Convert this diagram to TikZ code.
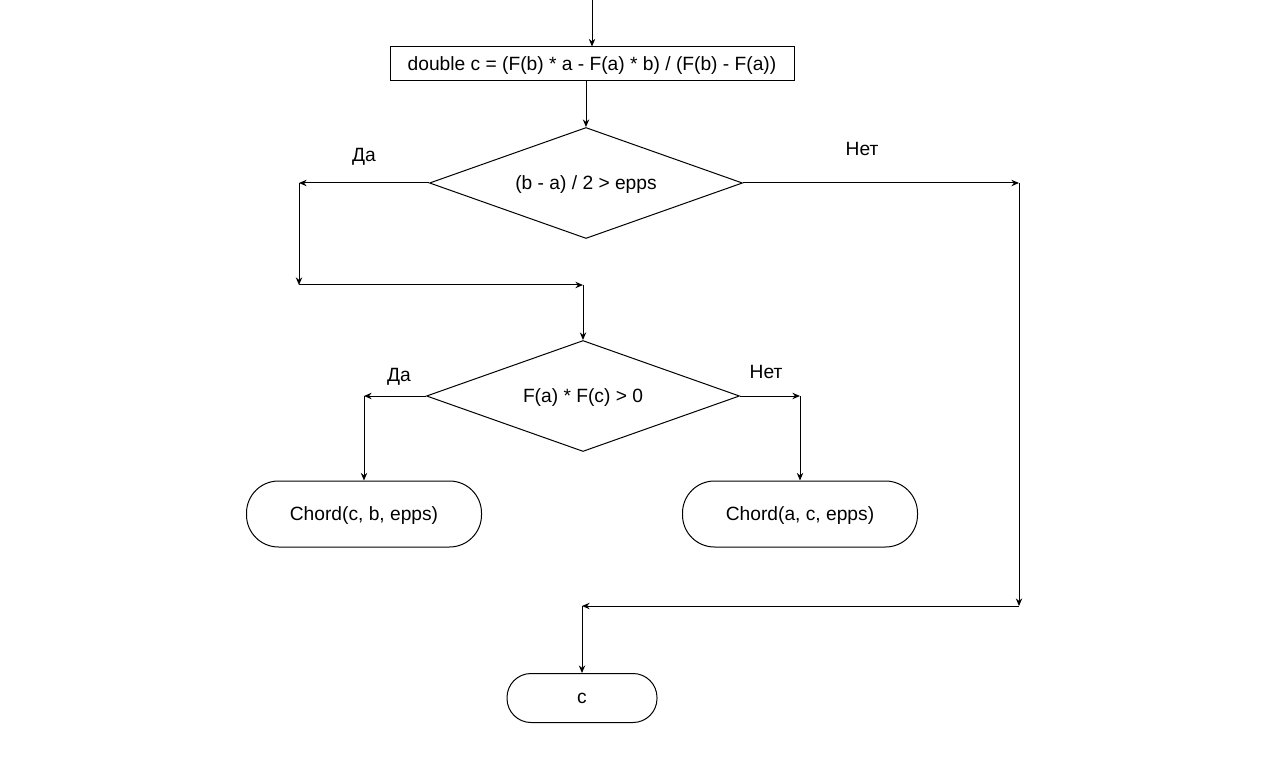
\documentclass[tikz,border=0pt]{standalone}
\usepackage{fontspec}
\setmainfont{Liberation Sans}
\usetikzlibrary{shapes.geometric,arrows.meta}

\begin{document}
\begin{tikzpicture}[x=0.5pt, y=-0.5pt, font=\fontsize{9.6}{11}\selectfont,
        line width=0.5pt, >={Stealth[length=3.8pt,width=3.2pt]},
        box/.style={draw, minimum width=202pt, minimum height=17pt, inner sep=0pt, text depth=0pt},
        cond/.style={draw, diamond, aspect=2.8, minimum width=156.5pt, minimum height=55.5pt, inner sep=0pt, text depth=0pt},
        term/.style={draw, rounded corners=16pt, minimum width=117.5pt, minimum height=33pt, inner sep=0pt, text depth=0pt}]
        \useasboundingbox (0, 0) rectangle (1267, 764);

        \node[box] (calc) at (592, 64) {double c = (F(b) * a - F(a) * b) / (F(b) - F(a))};
        \node[cond] (cond1) at (586, 183) {(b - a) / 2 > epps};
        \node[cond] (cond2) at (583, 396) {F(a) * F(c) > 0};
        \node[term] (chordl) at (364, 514) {Chord(c, b, epps)};
        \node[term] (chordr) at (800, 514) {Chord(a, c, epps)};
        \node[term, minimum width=75pt, minimum height=24.5pt, rounded corners=12pt] (res) at (582, 698) {c};

        \node (yes1) at (364, 157) {Да};
        \node (no1) at (862, 149) {Нет};
        \node (yes2) at (399, 377) {Да};
        \node (no2) at (766, 372) {Нет};

        \coordinate (top) at (592, 0);
        \coordinate (yl1) at (299, 183);
        \coordinate (yl2) at (299, 285);
        \coordinate (yl3) at (583, 285);
        \coordinate (nr1) at (1019, 183);
        \coordinate (nr2) at (1019, 606);
        \coordinate (nr3) at (582, 606);
        \coordinate (d2l) at (364, 396);
        \coordinate (d2r) at (800, 396);

        \draw[->] (top) -- (calc.north);
        \draw[->] (calc.south -| cond1.north) -- (cond1.north);
        \draw[->] (cond1.west) -- (yl1);
        \draw[->] (yl1) -- (yl2);
        \draw[->] (yl2) -- (yl3);
        \draw[->] (yl3) -- (cond2.north);
        \draw[->] (cond1.east) -- (nr1);
        \draw[->] (nr1) -- (nr2);
        \draw[->] (nr2) -- (nr3);
        \draw[->] (nr3) -- (res.north);
        \draw[->] (cond2.west) -- (d2l);
        \draw[->] (d2l) -- (chordl.north);
        \draw[->] (cond2.east) -- (d2r);
        \draw[->] (d2r) -- (chordr.north);
      \end{tikzpicture}
\end{document}
